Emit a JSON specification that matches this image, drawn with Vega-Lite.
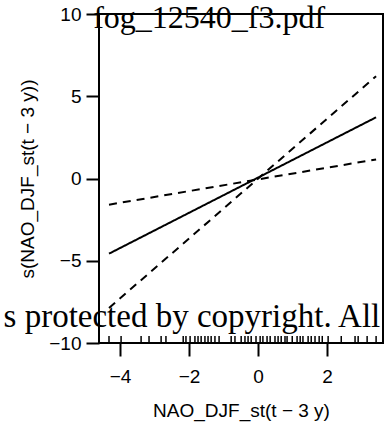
{
  "$schema": "https://vega.github.io/schema/vega-lite/v6.json",
  "width": 284,
  "height": 329,
  "autosize": "none",
  "padding": {"left": 99, "top": 14, "right": 5, "bottom": 80},
  "background": "white",
  "config": {
    "view": {"stroke": "black", "strokeWidth": 2},
    "axis": {
      "domain": false,
      "grid": false,
      "ticks": true,
      "tickColor": "black",
      "tickWidth": 2,
      "tickSize": 13,
      "labelFont": "Liberation Sans",
      "labelFontSize": 19,
      "labelColor": "black",
      "titleFont": "Liberation Sans",
      "titleFontSize": 19,
      "titleFontWeight": "normal",
      "titleColor": "black"
    }
  },
  "datasets": {
    "lines": [
      {"series": "fit", "x": -4.32, "y": -4.57},
      {"series": "fit", "x": 3.42, "y": 3.72},
      {"series": "upper", "x": -4.32, "y": -1.59},
      {"series": "upper", "x": 3.42, "y": 1.16},
      {"series": "lower", "x": -4.32, "y": -7.87},
      {"series": "lower", "x": 3.42, "y": 6.22}
    ],
    "rug": [
      {"x": -4.32}, {"x": -3.97}, {"x": -3.39}, {"x": -3.16}, {"x": -2.81}, {"x": -2.67},
      {"x": -2.17}, {"x": -2.09}, {"x": -1.97}, {"x": -1.83}, {"x": -1.74}, {"x": -1.65},
      {"x": -1.54}, {"x": -1.45}, {"x": -1.36}, {"x": -1.25}, {"x": -1.13}, {"x": -0.78},
      {"x": -0.67}, {"x": -0.49}, {"x": -0.38}, {"x": -0.29}, {"x": -0.2}, {"x": -0.06},
      {"x": 0.06}, {"x": 0.14}, {"x": 0.26}, {"x": 0.35}, {"x": 0.49}, {"x": 0.58},
      {"x": 0.67}, {"x": 0.78}, {"x": 0.84}, {"x": 0.99}, {"x": 1.13}, {"x": 1.22},
      {"x": 1.3}, {"x": 1.45}, {"x": 1.54}, {"x": 1.65}, {"x": 1.77}, {"x": 1.86},
      {"x": 2.03}, {"x": 2.41}, {"x": 2.81}, {"x": 2.9}, {"x": 3.16}, {"x": 3.42}
    ],
    "notes": [
      {"label": "fog_12540_f3.pdf", "x": -4.78, "y": 9.12, "align": "left"},
      {"label": "s protected by copyright. All", "x": 3.54, "y": -9.0, "align": "right"}
    ]
  },
  "layer": [
    {
      "data": {"name": "rug"},
      "mark": {"type": "rule", "color": "black", "strokeWidth": 1.5},
      "encoding": {
        "x": {"field": "x", "type": "quantitative", "scale": {"domain": [-4.61, 3.62], "nice": false, "zero": false}},
        "y": {"datum": -10, "type": "quantitative"},
        "y2": {"datum": -9.57}
      }
    },
    {
      "data": {"name": "lines"},
      "mark": {"type": "line", "color": "black", "strokeWidth": 2},
      "encoding": {
        "x": {
          "field": "x", "type": "quantitative",
          "scale": {"domain": [-4.61, 3.62], "nice": false, "zero": false},
          "axis": {"values": [-4, -2, 0, 2], "title": "NAO_DJF_st(t − 3 y)", "labelPadding": 11, "titlePadding": 15}
        },
        "y": {
          "field": "y", "type": "quantitative",
          "scale": {"domain": [-10, 10], "nice": false, "zero": false},
          "axis": {"values": [-10, -5, 0, 5, 10], "title": "s(NAO_DJF_st(t − 3 y))", "labelPadding": 5, "titleX": -62, "titleBaseline": "bottom"}
        },
        "detail": {"field": "series"},
        "strokeDash": {
          "field": "series", "type": "nominal",
          "scale": {"domain": ["fit", "upper", "lower"], "range": [[1, 0], [8, 6], [8, 6]]},
          "legend": null
        }
      }
    },
    {
      "data": {"name": "notes"},
      "transform": [{"filter": "datum.align == 'left'"}],
      "mark": {"type": "text", "font": "Liberation Serif", "fontSize": 32, "color": "black", "align": "left", "baseline": "alphabetic", "clip": false},
      "encoding": {
        "x": {"field": "x", "type": "quantitative"},
        "y": {"field": "y", "type": "quantitative"},
        "text": {"field": "label"}
      }
    },
    {
      "data": {"name": "notes"},
      "transform": [{"filter": "datum.align == 'right'"}],
      "mark": {"type": "text", "font": "Liberation Serif", "fontSize": 33, "color": "black", "align": "right", "baseline": "alphabetic", "clip": false},
      "encoding": {
        "x": {"field": "x", "type": "quantitative"},
        "y": {"field": "y", "type": "quantitative"},
        "text": {"field": "label"}
      }
    }
  ]
}
